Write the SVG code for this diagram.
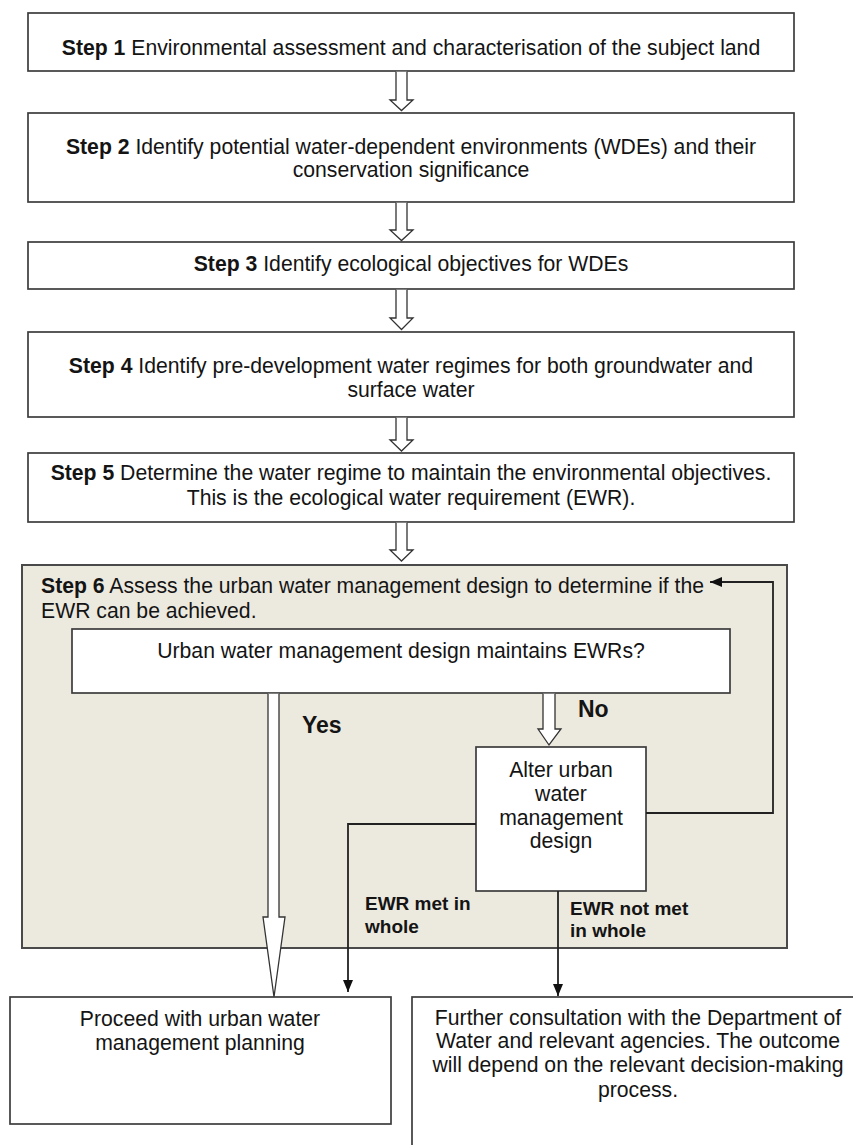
<svg xmlns="http://www.w3.org/2000/svg" width="853" height="1145" viewBox="0 0 853 1145">
  <style>
    .box { fill: #ffffff; stroke: #3c3c3c; stroke-width: 1.7; }
    .stage { fill: #ECE9DF; stroke: #4a4a4a; stroke-width: 2; }
    .t { font-family: "Liberation Sans", Arial, sans-serif; font-size: 21.2px; fill: #141414; }
    .c { text-anchor: middle; }
    .b { font-weight: bold; }
    .lbl { font-family: "Liberation Sans", Arial, sans-serif; font-size: 19px; font-weight: bold; fill: #141414; }
    .yn { font-family: "Liberation Sans", Arial, sans-serif; font-size: 23px; font-weight: bold; fill: #141414; }
    .hollow { fill: #ffffff; stroke: #333333; stroke-width: 1.3; stroke-linejoin: miter; }
    .line { fill: none; stroke: #222222; stroke-width: 1.8; }
  </style>
  <defs>
    <marker id="head" viewBox="0 0 12 10" refX="12" refY="5" markerWidth="12" markerHeight="10" markerUnits="userSpaceOnUse" orient="auto">
      <path d="M0,0 L12,5 L0,10 Z" fill="#111111"/>
    </marker>
  </defs>

  <!-- Steps 1 to 5 -->
  <g id="step1">
    <rect class="box" x="28" y="13" width="766" height="58"/>
    <text class="t c" x="411" y="55"><tspan class="b">Step 1</tspan> Environmental assessment and characterisation of the subject land</text>
  </g>
  <g id="step2">
    <rect class="box" x="28" y="113" width="766" height="89"/>
    <text class="t c" x="411" y="154"><tspan class="b">Step 2</tspan> Identify potential water-dependent environments (WDEs) and their</text>
    <text class="t c" x="411" y="177">conservation significance</text>
  </g>
  <g id="step3">
    <rect class="box" x="28" y="242" width="766" height="47"/>
    <text class="t c" x="411" y="271"><tspan class="b">Step 3</tspan> Identify ecological objectives for WDEs</text>
  </g>
  <g id="step4">
    <rect class="box" x="28" y="332" width="766" height="85"/>
    <text class="t c" x="411" y="373"><tspan class="b">Step 4</tspan> Identify pre-development water regimes for both groundwater and</text>
    <text class="t c" x="411" y="397">surface water</text>
  </g>
  <g id="step5">
    <rect class="box" x="28" y="453" width="766" height="69"/>
    <text class="t c" x="411" y="480"><tspan class="b">Step 5</tspan> Determine the water regime to maintain the environmental objectives.</text>
    <text class="t c" x="411" y="505">This is the ecological water requirement (EWR).</text>
  </g>

  <!-- Step 6 panel and its inner nodes -->
  <g id="step6">
    <rect class="stage" x="22" y="565" width="765" height="383"/>
    <text class="t" x="41" y="593"><tspan class="b">Step 6</tspan> Assess the urban water management design to determine if the</text>
    <text class="t" x="41" y="618">EWR can be achieved.</text>
  </g>
  <g id="decision">
    <rect class="box" x="72" y="629" width="658" height="64"/>
    <text class="t c" x="401" y="658">Urban water management design maintains EWRs?</text>
  </g>
  <g id="alter">
    <rect class="box" x="476" y="747" width="170" height="144"/>
    <text class="t c" x="561" y="777">Alter urban</text>
    <text class="t c" x="561" y="801">water</text>
    <text class="t c" x="561" y="825">management</text>
    <text class="t c" x="561" y="848">design</text>
  </g>

  <!-- Outcomes -->
  <g id="proceed">
    <rect class="box" x="10" y="997" width="381" height="127"/>
    <text class="t c" x="200" y="1026">Proceed with urban water</text>
    <text class="t c" x="200" y="1050">management planning</text>
  </g>
  <g id="consult">
    <rect class="box" x="412" y="997" width="460" height="200"/>
    <text class="t c" x="638" y="1025">Further consultation with the Department of</text>
    <text class="t c" x="638" y="1048">Water and relevant agencies. The outcome</text>
    <text class="t c" x="638" y="1072">will depend on the relevant decision-making</text>
    <text class="t c" x="638" y="1097">process.</text>
  </g>

  <!-- Connectors -->
  <g id="connectors">
    <path class="hollow" d="M396,71.8 V100 H390 L401.5,110.5 L413,100 H407 V71.8"/>
    <path class="hollow" d="M396,202.8 V230 H390 L401.5,240.5 L413,230 H407 V202.8"/>
    <path class="hollow" d="M396,289.8 V318 H390 L401.5,329.5 L413,318 H407 V289.8"/>
    <path class="hollow" d="M396,417.8 V440 H390 L401.5,451 L413,440 H407 V417.8"/>
    <path class="hollow" d="M396,522.8 V550 H390 L401.5,561 L413,550 H407 V522.8"/>
    <!-- Yes branch -->
    <path class="hollow" d="M268,693.8 V917 H263 L274,997 L285,917 H279 V693.8"/>
    <text class="yn" x="302" y="733">Yes</text>
    <!-- No branch -->
    <path class="hollow" d="M543,693.8 V729 H538 L549,745 L561,729 H555 V693.8"/>
    <text class="yn" x="578" y="717">No</text>
    <!-- Outcomes of the altered design -->
    <path class="line" d="M476,824 H348 V992" marker-end="url(#head)"/>
    <text class="lbl" x="365" y="910">EWR met in</text>
    <text class="lbl" x="365" y="933">whole</text>
    <path class="line" d="M558,891 V996" marker-end="url(#head)"/>
    <text class="lbl" x="570" y="915">EWR not met</text>
    <text class="lbl" x="570" y="937">in whole</text>
    <!-- Loop back to Step 6 -->
    <path class="line" d="M646,813 H773 V582 H710" marker-end="url(#head)"/>
  </g>
</svg>
